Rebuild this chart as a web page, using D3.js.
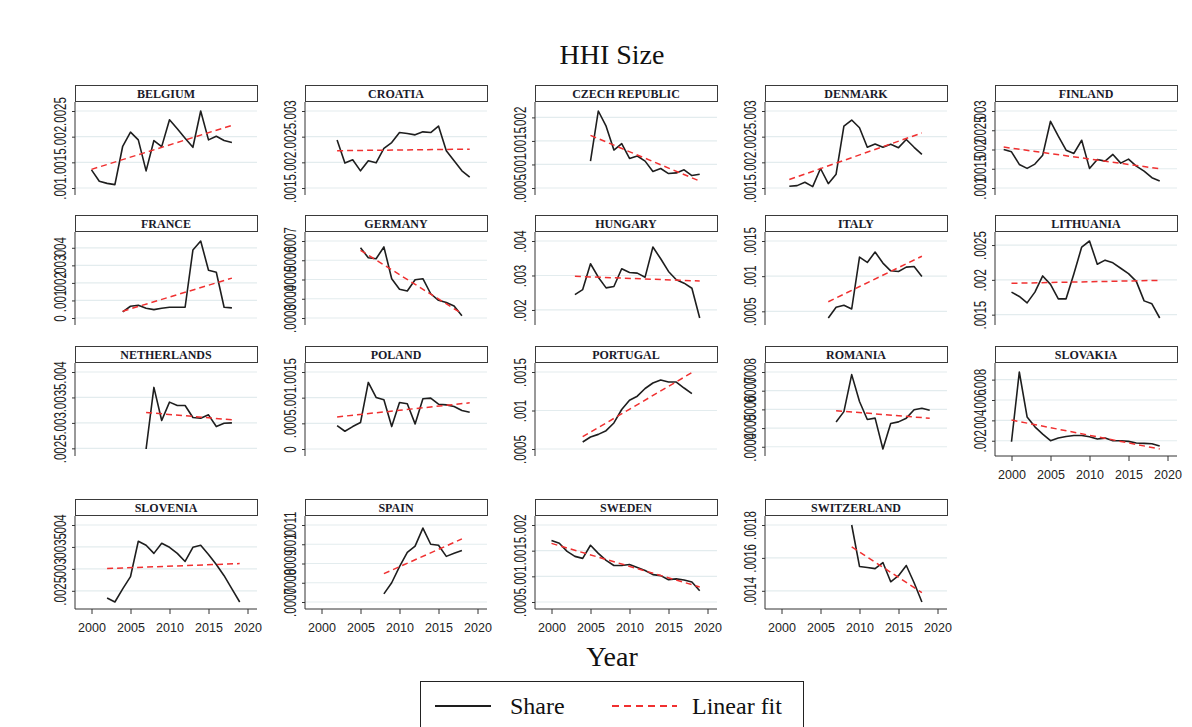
<!DOCTYPE html>
<html><head><meta charset="utf-8">
<script src="https://cdn.jsdelivr.net/npm/d3@7"></script>
<style>body{margin:0;background:#fff}svg{display:block}</style>
</head><body><svg id="c" width="1192" height="727"></svg>
<script>
const countries = ["BELGIUM","CROATIA","CZECH REPUBLIC","DENMARK","FINLAND","FRANCE","GERMANY","HUNGARY","ITALY","LITHUANIA","NETHERLANDS","POLAND","PORTUGAL","ROMANIA","SLOVAKIA","SLOVENIA","SPAIN","SWEDEN","SWITZERLAND"];
const startYears = [2000,2002,2005,2001,1999,2004,2005,2003,2006,2000,2007,2002,2004,2007,2000,2002,2008,2000,2009];

const belgium = [.001354,.001131,.00109,.001066,.001813,.002088,.001937,.001334,.001924,.001806,.00233,.002153,.00197,.001793,.0025,.001937,.002009,.001924,.001885];
const croatia = [.002437,.001985,.00205,.001834,.00203,.00199,.002273,.002385,.002581,.002562,.002535,.002594,.002581,.002706,.002227,.00203,.001834,.00171];
const czech = [.001071,.002136,.001814,.001307,.001443,.001129,.001179,.001071,.00085,.000914,.000807,.000821,.000886,.000764,.000793];
const denmark = [.001533,.001546,.001611,.001526,.00188,.001585,.001769,.002706,.002824,.002673,.002293,.002358,.002293,.002352,.002286,.002444,.002293,.002155];
const finland = [.002,.00194,.001612,.001509,.001621,.001853,.002733,.002345,.001983,.001897,.002241,.001509,.001741,.001698,.001871,.001647,.00175,.001569,.00144,.001267,.001181];
const france = [.000345,.00067,.000728,.000556,.000479,.000556,.000613,.000613,.000613,.00387,.004387,.00272,.002605,.000613,.000575];
const germany = [.000665,.000613,.000608,.000669,.000504,.000449,.00044,.000499,.000504,.000426,.000392,.00038,.000362,.000312];
const hungary = [.002447,.002592,.00334,.002951,.002641,.00268,.003194,.003087,.003068,.002951,.003825,.003485,.003117,.002874,.002777,.002631,.001767];
const italy = [.000405,.000557,.000586,.000533,.001271,.001195,.001343,.001186,.001076,.001067,.001129,.001138,.000995];
const lithuania = [.001824,.001761,.001669,.001824,.002056,.001935,.001727,.001727,.002089,.002471,.002558,.002225,.002283,.002244,.002167,.002089,.001978,.001698,.001655,.001452];
const netherlands = [.002487,.003697,.003046,.003408,.003342,.003342,.003105,.003092,.003158,.002928,.002993,.003];
const poland = [.000456,.000346,.000437,.000515,.001297,.001004,.000958,.000437,.000906,.00088,.000489,.000978,.000991,.000873,.00086,.000828,.00075,.000717];
const portugal = [.000591,.000656,.00069,.000738,.000838,.001013,.001134,.001186,.001286,.001357,.001396,.00137,.00137,.001292,.001219];
const romania = [.000533,.000588,.000786,.000642,.000546,.000553,.000388,.000524,.000533,.000553,.000598,.000606,.000595];
const slovakia = [.0019,.00875,.004334,.003361,.002648,.002,.002259,.002421,.002519,.002519,.002389,.002162,.002259,.002,.002,.001935,.001773,.001741,.001708,.001481];
const slovenia = [.002337,.002245,.002545,.002822,.00363,.003538,.003353,.003584,.003492,.003353,.003169,.003492,.003538,.00333,.003099,.002845,.002545,.002245];
const spain = [.000742,.0008,.000884,.000958,.00099,.001084,.001,.000995,.000937,.000953,.000968];
const sweden = [.0017,.001645,.001487,.001389,.00135,.001606,.001448,.00131,.001211,.001211,.00123,.001172,.001112,.001033,.001014,.000935,.00095,.00093,.00089,.00072];
const switzerland = [.0018,.001548,.001542,.001535,.001572,.001455,.001492,.001554,.001449,.001332];

const valueSeries = [belgium,croatia,czech,denmark,finland,france,germany,hungary,italy,lithuania,netherlands,poland,portugal,romania,slovakia,slovenia,spain,sweden,switzerland];

const yTicks = [
  [.001,.0015,.002,.0025],
  [.0015,.002,.0025,.003],
  [.0005,.001,.0015,.002],
  [.0015,.002,.0025,.003],
  [.001,.0015,.002,.0025,.003],
  [0,.001,.002,.003,.004],
  [.0003,.0004,.0005,.0006,.0007],
  [.002,.003,.004],
  [.0005,.001,.0015],
  [.0015,.002,.0025],
  [.0025,.003,.0035,.004],
  [0,.0005,.001,.0015],
  [.0005,.001,.0015],
  [.0004,.0005,.0006,.0007,.0008],
  [.002,.004,.006,.008],
  [.0025,.003,.0035,.004],
  [.0007,.0008,.0009,.001,.0011],
  [.0005,.001,.0015,.002],
  [.0014,.0016,.0018]
];
const xTicks = [2000,2005,2010,2015,2020];
const chartTitle = "HHI Size";
const xTitle = "Year";
const legendLabels = ["Share","Linear fit"];

const svg = d3.select("#c");
const colX = [75,305,535,765,995];
const rowHB = [102,232,363,516];
const panelW = 182;
const fmt = v => String(v).replace(/^0\./, ".");
const serif = "'Liberation Serif', 'DejaVu Serif', serif";
const sans = "'Liberation Sans', Arial, sans-serif";

svg.append("text").attr("x",612).attr("y",64).attr("text-anchor","middle")
  .style("font-family",serif).style("font-size","28px").attr("fill","#111").text(chartTitle);

function fit(xs, ys){
  const mx = d3.mean(xs), my = d3.mean(ys);
  let sxy=0, sxx=0;
  xs.forEach((x,i)=>{ sxy += (x-mx)*(ys[i]-my); sxx += (x-mx)*(x-mx); });
  const b = sxy/sxx, a = my - b*mx;
  return x => a + b*x;
}

countries.forEach((name, i) => {
  const col = i % 5, row = Math.floor(i/5);
  const left = colX[col], hb = rowHB[row];
  const vals = valueSeries[i];
  const data = vals.map((v,k)=>({year:startYears[i]+k, v}));
  const f = fit(data.map(d=>d.year), vals);
  const y0 = data[0].year, y1 = data[data.length-1].year;
  const fitPts = [{year:y0, v:f(y0)},{year:y1, v:f(y1)}];
  const ticks = yTicks[i];
  const x = d3.scaleLinear().domain([2000,2020]).range([left+16.5, left+172.5]);
  const y = d3.scaleLinear()
    .domain(d3.extent([...vals, ...ticks, ...fitPts.map(d=>d.v)]))
    .range([hb+86, hb+9]);
  const g = svg.append("g");

  // gridlines
  g.selectAll(".grid").data(ticks).join("line")
    .attr("x1",left).attr("x2",left+panelW)
    .attr("y1",d=>y(d)).attr("y2",d=>y(d))
    .attr("stroke","#e3ecee").attr("stroke-width",1.2);

  // header
  g.append("rect").attr("x",left+0.5).attr("y",hb-16.5).attr("width",panelW).attr("height",16)
    .attr("fill","#fff").attr("stroke","#3a3a3a").attr("stroke-width",1);
  g.append("text").attr("x",left+panelW/2).attr("y",hb-4.5).attr("text-anchor","middle")
    .style("font-family",serif).style("font-size","12px").style("font-weight","bold")
    .attr("fill","#1a1a2a").text(name);

  // y axis
  const ax = g.append("g").attr("transform",`translate(${left},0)`)
    .call(d3.axisLeft(y).tickValues(ticks).tickSize(3).tickFormat(fmt));
  ax.select(".domain").remove();
  ax.selectAll(".tick line").attr("stroke","#333");
  ax.selectAll(".tick text")
    .attr("x",null).attr("dy",null)
    .attr("transform","translate(-9,0) rotate(-90) scale(0.72,1)")
    .attr("text-anchor","middle")
    .style("font-family",sans).style("font-size","16px").attr("fill","#222");
  g.append("line").attr("x1",left).attr("x2",left).attr("y1",hb).attr("y2",hb+93)
    .attr("stroke","#333").attr("stroke-width",1);

  // x axis for bottom panels
  if (i + 5 >= countries.length) {
    const xa = g.append("g").attr("transform",`translate(0,${hb+93})`)
      .call(d3.axisBottom(x).tickValues(xTicks).tickSize(5).tickFormat(d3.format("d")));
    xa.select(".domain").attr("d",`M${left},0H${left+panelW}`).attr("stroke","#333");
    xa.selectAll(".tick line").attr("stroke","#333");
    xa.selectAll(".tick text").attr("y",14).attr("dy","0.71em")
      .style("font-family",sans).style("font-size","12.5px").attr("fill","#222");
  }

  const line = d3.line().x(d=>x(d.year)).y(d=>y(d.v));
  g.append("path").datum(data).attr("d",line).attr("fill","none")
    .attr("stroke","#1e1e1e").attr("stroke-width",1.6).attr("stroke-linejoin","round");
  g.append("path").datum(fitPts).attr("d",line).attr("fill","none")
    .attr("stroke","#f03030").attr("stroke-width",1.5).attr("stroke-dasharray","6,4");
});

svg.append("text").attr("x",612).attr("y",666).attr("text-anchor","middle")
  .style("font-family",serif).style("font-size","28px").attr("fill","#111").text(xTitle);

// legend
const lg = svg.append("g");
lg.append("rect").attr("x",420.5).attr("y",681.5).attr("width",383).attr("height",60)
  .attr("fill","#fff").attr("stroke","#222").attr("stroke-width",1);
lg.append("line").attr("x1",435).attr("x2",491).attr("y1",706).attr("y2",706)
  .attr("stroke","#1e1e1e").attr("stroke-width",2);
lg.append("text").attr("x",510).attr("y",714).style("font-family",serif).style("font-size","24px")
  .attr("fill","#111").text(legendLabels[0]);
lg.append("line").attr("x1",612).attr("x2",677).attr("y1",706).attr("y2",706)
  .attr("stroke","#f03030").attr("stroke-width",2).attr("stroke-dasharray","7,5");
lg.append("text").attr("x",692).attr("y",714).style("font-family",serif).style("font-size","24px")
  .attr("fill","#111").text(legendLabels[1]);
</script></body></html>
